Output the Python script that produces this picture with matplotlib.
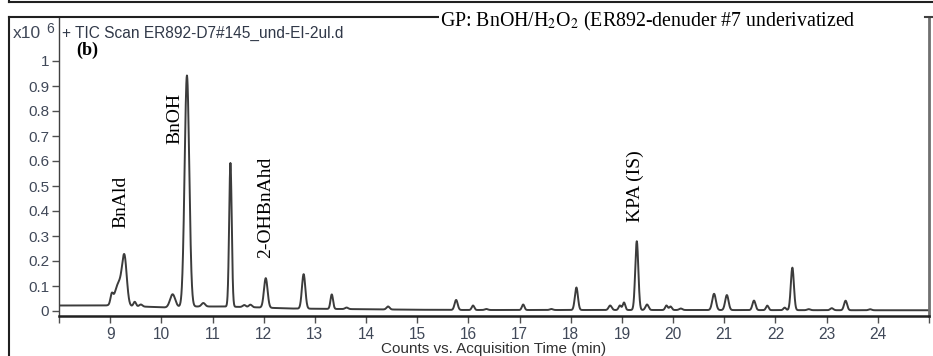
import numpy as np
import matplotlib
matplotlib.use("Agg")
import matplotlib.pyplot as plt
from matplotlib.lines import Line2D

# ---- data ----
# peak retention times (min), apex heights above baseline (x10^6 counts), widths (sigma, min)
peak_rt = [9.03, 9.17, 9.28, 9.48, 9.60, 10.22, 10.50, 10.82, 11.35, 11.62, 11.74,
           12.04, 12.78, 13.33, 13.62, 14.43, 15.76, 16.09, 16.35, 17.07, 17.62, 18.11,
           18.77, 18.96, 19.04, 19.29, 19.49, 19.87, 19.95, 20.15, 20.80, 21.05,
           21.58, 21.84, 22.18, 22.33, 22.65, 23.10, 23.37, 23.85]
peak_height = [0.035, 0.090, 0.175, 0.018, 0.008, 0.052, 0.925, 0.014, 0.575, 0.008, 0.010,
               0.118, 0.138, 0.058, 0.006, 0.012, 0.040, 0.018, 0.004, 0.022, 0.004, 0.090,
               0.018, 0.018, 0.030, 0.275, 0.022, 0.018, 0.014, 0.006, 0.065, 0.060,
               0.038, 0.018, 0.010, 0.170, 0.004, 0.008, 0.038, 0.004]
peak_width = [0.025, 0.075, 0.045, 0.025, 0.030, 0.050, 0.045, 0.035, 0.025, 0.030, 0.030,
              0.035, 0.033, 0.025, 0.030, 0.030, 0.030, 0.025, 0.030, 0.025, 0.030, 0.030,
              0.030, 0.025, 0.025, 0.030, 0.030, 0.025, 0.025, 0.030, 0.035, 0.033,
              0.030, 0.025, 0.025, 0.030, 0.030, 0.030, 0.030, 0.030]
# baseline level read at several times
base_t = [8.0, 9.0, 9.6, 10.1, 10.6, 11.2, 11.8, 12.5, 13.5, 15.0, 16.0, 20.0, 24.0, 25.0]
base_v = [0.022, 0.022, 0.018, 0.014, 0.018, 0.018, 0.015, 0.010, 0.008, 0.005, 0.004, 0.004, 0.003, 0.003]

labels = ["BnAld", "BnOH", "2-OHBnAhd", "KPA (IS)"]
label_t = [9.20, 10.27, 12.04, 19.27]
label_v = [0.33, 0.67, 0.21, 0.355]

xticks = list(range(8, 26))
xticklabels = ["" if (v == 8 or v == 25) else str(v) for v in xticks]
yticks = [0, 0.1, 0.2, 0.3, 0.4, 0.5, 0.6, 0.7, 0.8, 0.9, 1]
yticklabels = ["0", "0.1", "0.2", "0.3", "0.4", "0.5", "0.6", "0.7", "0.8", "0.9", "1"]

# ---- build the trace ----
t = np.linspace(8.0, 25.0, 6000)
y = np.interp(t, base_t, base_v)
for rt, h, w in zip(peak_rt, peak_height, peak_width):
    y = y + h * np.exp(-0.5 * ((t - rt) / w) ** 2)

W, H = 933, 356
fig = plt.figure(figsize=(W / 100, H / 100), dpi=100)
fig.patch.set_facecolor("white")

L, R, T, B = 59, 929, 17, 316
ax = fig.add_axes([L / W, (H - B) / H, (R - L) / W, (B - T) / H])
ax.plot(t, y, color="#3c3c3c", lw=1.4)
ax.set_xlim(8, 25)
ax.set_ylim(-0.02, 1.176)

tick_col = "#404858"
sans = ["Liberation Sans", "DejaVu Sans"]
serif = ["Liberation Serif", "DejaVu Serif"]

ax.set_xticks(xticks)
ax.set_xticklabels(xticklabels, fontsize=11.2, family=sans, color=tick_col)
ax.set_yticks(yticks)
ax.set_yticklabels(yticklabels, fontsize=11, family=sans, color=tick_col)
ax.tick_params(axis="both", direction="out", length=5, width=1, color="#505050", pad=2)
ax.tick_params(axis="x", pad=3)

ax.spines["top"].set_visible(False)
ax.spines["left"].set_color("#404040")
ax.spines["left"].set_linewidth(1.0)
ax.spines["bottom"].set_color("#202020")
ax.spines["bottom"].set_linewidth(1.8)
ax.spines["right"].set_color("#707070")
ax.spines["right"].set_linewidth(2.0)

ax.set_xlabel("Counts vs. Acquisition Time (min)", fontsize=11, family=sans,
              color="#303030", labelpad=0)

for lab, lt, lv in zip(labels, label_t, label_v):
    ax.text(lt, lv, lab, rotation=90, ha="center", va="bottom", fontsize=14,
            family=serif, color="black")

# header texts
fig.text(62 / W, 1 - 33 / H, "+ TIC Scan ER892-D7#145_und-EI-2ul.d", fontsize=11.2,
         family=sans, color="#303848", ha="left", va="center")
fig.text(13 / W, 1 - 34 / H, "x10", fontsize=12.5, family=sans, color=tick_col,
         ha="left", va="center")
fig.text(46 / W, 1 - 29 / H, "6", fontsize=10, family=sans, color=tick_col,
         ha="left", va="center")
fig.text(76 / W, 1 - 50 / H, "(b)", fontsize=13, family=serif, weight="bold",
         color="black", ha="left", va="center")

# frame lines
fig.add_artist(Line2D([9 / W, 1.0], [1 - 2 / H, 1 - 2 / H], color="#202020", lw=1.5))
fig.add_artist(Line2D([9 / W, 9 / W], [1.0, 1 - 2 / H], color="#202020", lw=1.5))
fig.add_artist(Line2D([9 / W, 440 / W], [1 - 17 / H, 1 - 17 / H], color="#202020", lw=1.5))
fig.add_artist(Line2D([9 / W, 9 / W], [0, 1 - 17 / H], color="#202020", lw=1.5))
fig.add_artist(Line2D([925 / W, 933 / W], [1 - 17 / H, 1 - 17 / H], color="#404040", lw=1.5))

fig.text(440 / W, 1 - 21 / H, r"GP: BnOH/H$_2$O$_2$ (ER892-denuder #7 underivatized",
         fontsize=14.3, family=serif, color="black", ha="left", va="center",
         math_fontfamily="stix",
         bbox=dict(facecolor="white", edgecolor="none", pad=0.5))

fig.savefig("out.png", dpi=100, facecolor="white")
